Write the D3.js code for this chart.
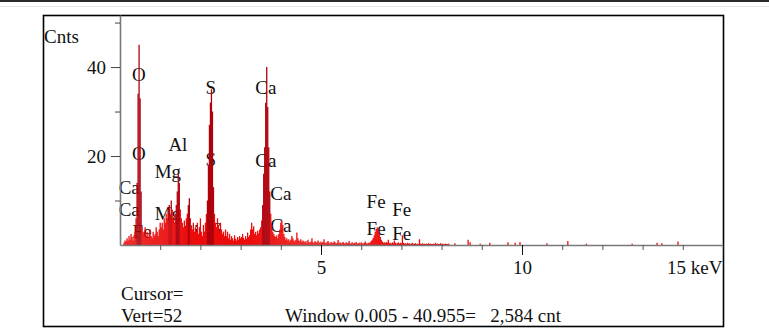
<!DOCTYPE html>
<html>
<head>
<meta charset="utf-8">
<title>EDS spectrum</title>
<script src="https://cdn.jsdelivr.net/npm/d3@7"></script>
<style>
  body { margin: 0; background: #fff; }
  svg text { font-family: "Liberation Serif", "Times New Roman", serif; fill: #111; }
</style>
</head>
<body>
<svg id="drawing_region"></svg>
<script>
// counts per channel, first channel at 0.1 keV, channels 0.025 keV apart
const channelStart = 0.1;
const channelStep = 0.025;
const channelCounts = [
    0.5,1,0.8,1.5,1,2,1.2,2.5,1.8,1,2.2,3,
    6,14,34,45,33,12,4,
    3,2.5,4,2,3,1.5,2.5,3.5,2,1.5,3,2,2.5,4,3,2,3.5,5,
    4,5,3.5,6,5,7,6,8,9,7,10,8,6,5,7,9,12,
    16,14,8,
    6,5,4,5.5,4,6,7,9,10.5,6,4,3.5,5,3,4,
    3,5,2.5,4,6,3,2,4.5,3,5,7,10,
    18,27,32,35,30,13,7,
    5,4,6,4.5,3,5,3.5,2.5,3,2,3.5,
    2,3,1.5,2.5,1.2,2,1.5,1,2.2,1.4,1,1.8,1.2,2,1.5,1.8,2.5,1.6,1.2,2,1.4,2.8,1.8,2.2,3.5,
    5,3.5,4.2,2.5,3,2.2,3.2,2.6,3.5,4,5.5,9,16,
    22,32,40,31,22,12,7,4.5,3,
    2.5,2,1.8,2.2,1.5,2.5,3.5,
    5,5.5,4.5,2.5,
    1.8,1.2,1.5,1,1.3,0.8,1.2,2,1.5,1,0.8,1.2,2.8,1.5,1,0.9,1.3,0.7,1,0.8,
    0.6,0.9,0.4,1.2,0.7,0.5,0.8,1.5,0.6,0.4,0.9,0.7,0.5,1,0.6,0.4,0.8,0.5,0.7,1.3,
    0.5,0.4,0.6,0.9,0.5,0.3,0.7,0.5,0.4,0.8,0.6,0.3,0.5,1.1,0.4,0.6,0.3,0.5,0.7,0.4,
    0.3,0.6,0.4,0.5,0.9,0.3,0.4,0.6,0.3,0.5,0.4,0.7,0.3,0.4,0.5,0.3,0.6,0.4,0.3,0.5,
    0.8,0.4,0.3,0.5,0.4,0.6,0.9,1.2,1.6,
    2.2,3,3.6,4,3.4,2.6,1.8,1.2,
    0.8,0.5,0.6,0.4,0.7,0.5,1.2,0.4,0.5,0.3,0.6,0.4,1,0.5,0.3,0.4,0.6,0.3,0.5,0.4,
    2.2,0.5,0.3,0.4,0.2,0.5,0.3,0.4,0.2,0.3,0.5,0.2,0.3,0.4,0.2,0.3,0.2,1.3,0.3,0.2,
    0.4,0.2,0.3,0.2,0.3,0.2,0.4,0.2,0.3,0.2,0.2,0.3,0.2,0.5,0.2,0.3,0.2,0.2,0.4,0.2,
    0.3,0.2,0.2,0.3,0.2,0.2,0.3
];

// isolated counts higher up the energy axis
const tailKeV    = [8.33, 8.66, 8.71, 8.96, 9.20, 9.65, 9.83, 9.95, 10.62, 11.14, 11.60, 12.74, 13.36, 13.48, 13.88];
const tailCounts = [0.4,  1.2,  0.6,  0.3,  0.5,  0.6,  0.5,  0.7,  0.4,   0.9,   0.3,   0.3,   0.5,   0.4,   0.8];

// element markers: name, energy and the count level the label sits at
const peakNames  = ["O", "O", "Ca", "Ca", "Fe", "Mg", "Mg", "Al", "Si", "S", "S", "S", "Ca", "Ca", "Ca", "Ca", "Fe", "Fe", "Fe", "Fe"];
const peakKeV    = [0.47, 0.47, 0.23, 0.23, 0.55, 1.19, 1.19, 1.44, 1.77, 2.26, 2.26, 2.41, 3.63, 3.63, 4.0, 4.0, 6.37, 6.37, 7.01, 7.01];
const peakLevels = [38.4, 20.7, 13.0, 8.1, 3.1, 16.6, 7.2, 22.7, 3.1, 35.5, 19.3, 3.6, 35.5, 19.1, 11.7, 4.5, 9.7, 3.8, 8.1, 2.7];

const yMajorTicks = [20, 40];
const yMinorTicks = [10, 30, 50];
const xMajorTicks = [5, 10, 15];
const xMajorLabels = ["5", "10", "15 keV"];
const xMinorTicks = [1, 2, 3, 4, 6, 7, 8, 9, 11, 12, 13, 14];

const yLabel = "Cnts";
const cursorText = "Cursor=";
const vertText = "Vert=52";
const windowText = "Window 0.005 - 40.955=   2,584 cnt";

const fontSize = '19px';

class Spectrum {

    constructor( config ) {
        this.config = config;
        this.init();
    }

    init() {
        let self = this;
        const c = self.config;

        self.svg = d3.select( c.parent )
            .attr('width', c.width)
            .attr('height', c.height)
            .style('display', 'block');

        // page rule at the very top
        self.svg.append('rect')
            .attr('x', 0).attr('y', 0)
            .attr('width', c.width).attr('height', 2)
            .attr('fill', '#2a2a2a');
        self.svg.append('line')
            .attr('x1', 0).attr('x2', c.width)
            .attr('y1', 6.5).attr('y2', 6.5)
            .attr('stroke', '#e6e6e6');

        self.svg.append('rect')
            .attr('x', c.frame.left + 0.5)
            .attr('y', c.frame.top + 0.5)
            .attr('width', c.frame.right - c.frame.left)
            .attr('height', c.frame.bottom - c.frame.top)
            .attr('fill', 'none')
            .attr('stroke', '#000')
            .attr('stroke-width', 1.6);

        self.xscale = d3.scaleLinear()
            .domain([0, 15])
            .range([c.plot.left, c.plot.right]);

        self.yscale = d3.scaleLinear()
            .domain([0, 51.7])
            .range([c.plot.bottom, c.plot.top]);

        self.labels_group = self.svg.append('g');
        self.bars_group = self.svg.append('g');
        self.axis_group = self.svg.append('g');
    }

    render() {
        let self = this;
        const c = self.config;

        const channels = channelCounts.map((v, i) => ({ kev: channelStart + i * channelStep, count: v }));
        const tail = tailKeV.map((k, i) => ({ kev: k, count: tailCounts[i] }));
        const bars = channels.concat(tail);

        // element labels first, spectrum goes over them
        self.labels_group.selectAll('text')
            .data(peakNames.map((n, i) => ({ name: n, kev: peakKeV[i], level: peakLevels[i] })))
            .join('text')
            .attr('x', d => self.xscale(d.kev))
            .attr('y', d => self.yscale(d.level))
            .attr('dy', '0.35em')
            .attr('text-anchor', 'middle')
            .style('font-size', fontSize)
            .text(d => d.name);

        self.bars_group.selectAll('line')
            .data(bars)
            .join('line')
            .attr('x1', d => self.xscale(d.kev))
            .attr('x2', d => self.xscale(d.kev))
            .attr('y1', self.yscale(0))
            .attr('y2', d => self.yscale(d.count))
            .attr('stroke', d => d.count >= 9 ? '#b0000c' : '#ec0c0c')
            .attr('stroke-width', 1.3);

        // x axis: minor ticks, then labelled ones
        const xminor = self.axis_group.append('g')
            .attr('transform', `translate(0, ${c.plot.bottom})`)
            .call(d3.axisBottom(self.xscale).tickValues(xMinorTicks).tickSize(5).tickSizeOuter(0).tickFormat(''));
        xminor.select('.domain').attr('stroke', '#7a7a7a').attr('stroke-width', 1.4);
        xminor.selectAll('.tick line').attr('stroke', '#555');

        const xmajor = self.axis_group.append('g')
            .attr('transform', `translate(0, ${c.plot.bottom})`)
            .call(d3.axisBottom(self.xscale).tickValues(xMajorTicks).tickSize(10).tickPadding(6)
                .tickFormat((d, i) => xMajorLabels[i]));
        xmajor.select('.domain').remove();
        xmajor.selectAll('.tick line').attr('stroke', '#111');
        xmajor.selectAll('.tick text')
            .style('font-size', fontSize)
            .style('font-family', '"Liberation Serif", serif')
            .attr('fill', '#111')
            .attr('text-anchor', d => d === 15 ? 'end' : 'middle')
            .attr('x', d => d === 15 ? -1 : 0);

        // y axis
        const yminor = self.axis_group.append('g')
            .attr('transform', `translate(${c.plot.left}, 0)`)
            .call(d3.axisLeft(self.yscale).tickValues(yMinorTicks).tickSize(5).tickSizeOuter(0).tickFormat(''));
        yminor.select('.domain').attr('stroke', '#7a7a7a').attr('stroke-width', 1.6);
        yminor.selectAll('.tick line').attr('stroke', '#444');

        const ymajor = self.axis_group.append('g')
            .attr('transform', `translate(${c.plot.left}, 0)`)
            .call(d3.axisLeft(self.yscale).tickValues(yMajorTicks).tickSize(9).tickPadding(5));
        ymajor.select('.domain').remove();
        ymajor.selectAll('.tick line').attr('stroke', '#444');
        ymajor.selectAll('.tick text')
            .style('font-size', fontSize)
            .style('font-family', '"Liberation Serif", serif')
            .attr('fill', '#111');

        self.svg.append('text')
            .attr('x', 44).attr('y', 43)
            .style('font-size', fontSize)
            .text(yLabel);

        self.svg.append('text')
            .attr('x', 121).attr('y', 300)
            .style('font-size', fontSize)
            .text(cursorText);

        self.svg.append('text')
            .attr('x', 121).attr('y', 322)
            .style('font-size', fontSize)
            .text(vertText);

        self.svg.append('text')
            .attr('x', 285).attr('y', 322)
            .style('font-size', fontSize)
            .style('white-space', 'pre')
            .text(windowText);
    }
}

const config = {
    parent: '#drawing_region',
    width: 769,
    height: 329,
    frame: {left: 43, top: 15, right: 723, bottom: 326},
    plot: {left: 120, top: 15, right: 723, bottom: 245}
};

const chart = new Spectrum( config );
chart.render();
</script>
</body>
</html>
